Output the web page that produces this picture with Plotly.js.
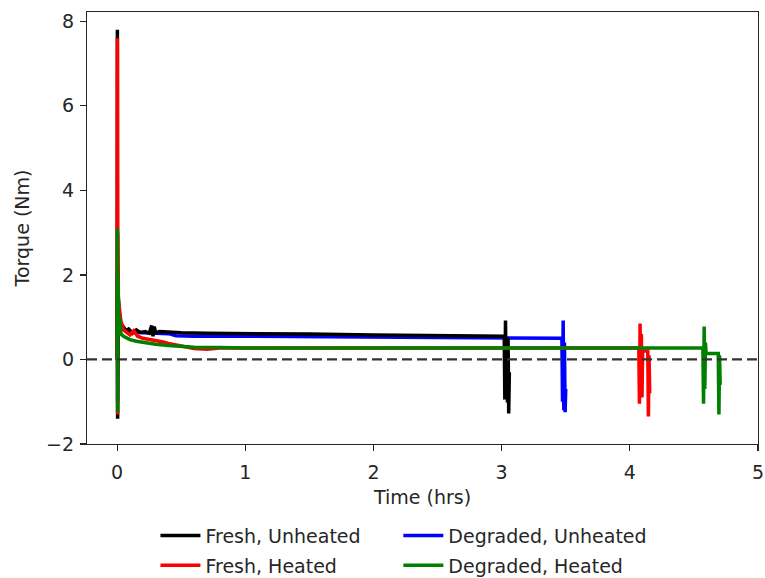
<!DOCTYPE html>
<html>
<head>
<meta charset="utf-8">
<script src="https://cdn.plot.ly/plotly-3.0.1.min.js"></script>
<style>html,body{margin:0;padding:0;background:#fff;}#chart{width:765px;height:578px;}</style>
</head>
<body>
<div id="chart"></div>
<script>
// Fresh, Unheated (black)
const freshUnheatedT = [0, 0.002, 0.004, 0.006, 0.009, 0.013, 0.02, 0.03, 0.05, 0.07, 0.09, 0.12, 0.15, 0.18, 0.22, 0.25, 0.27, 0.28, 0.29, 0.3, 0.33, 0.4, 0.5, 0.7, 1.0, 1.5, 2.0, 2.5, 2.9, 3.02, 3.025, 3.03, 3.035, 3.04, 3.045, 3.05, 3.055, 3.06];
const freshUnheatedY = [0, 7.8, -1.4, 2.2, 1.5, 1.1, 0.95, 0.85, 0.75, 0.68, 0.72, 0.62, 0.7, 0.64, 0.66, 0.62, 0.8, 0.55, 0.78, 0.63, 0.66, 0.64, 0.63, 0.62, 0.62, 0.6, 0.58, 0.57, 0.56, 0.55, -0.95, 0.92, -0.6, 0.3, -1.02, 0.5, -1.28, -0.3];

// Fresh, Heated (red)
const freshHeatedT = [0, 0.002, 0.004, 0.006, 0.01, 0.02, 0.03, 0.05, 0.08, 0.1, 0.13, 0.16, 0.2, 0.25, 0.3, 0.35, 0.4, 0.45, 0.5, 0.6, 0.7, 0.8, 1.0, 2.0, 3.0, 4.0, 4.07, 4.075, 4.08, 4.085, 4.09, 4.095, 4.1, 4.14, 4.145, 4.15, 4.155];
const freshHeatedY = [0, 7.6, -1.3, 3.0, 1.4, 1.1, 0.9, 0.7, 0.62, 0.58, 0.68, 0.55, 0.5, 0.48, 0.45, 0.42, 0.38, 0.36, 0.32, 0.26, 0.24, 0.27, 0.27, 0.27, 0.27, 0.27, 0.27, -1.05, 0.85, -0.5, 0.6, -0.9, 0.2, 0.2, -1.35, 0.1, -0.8];

// Degraded, Unheated (blue)
const degradedUnheatedT = [0, 0.002, 0.004, 0.01, 0.03, 0.06, 0.1, 0.2, 0.3, 0.4, 0.46, 0.6, 1.0, 1.5, 2.0, 2.5, 3.0, 3.3, 3.47, 3.475, 3.48, 3.485, 3.49, 3.495, 3.5];
const degradedUnheatedY = [0, 2.0, -1.0, 1.0, 0.8, 0.7, 0.65, 0.63, 0.62, 0.61, 0.56, 0.55, 0.55, 0.54, 0.53, 0.52, 0.51, 0.5, 0.5, -1.0, 0.92, -1.2, 0.4, -1.25, -0.7];

// Degraded, Heated (green)
const degradedHeatedT = [0, 0.002, 0.004, 0.006, 0.01, 0.015, 0.02, 0.03, 0.05, 0.08, 0.1, 0.15, 0.2, 0.3, 0.4, 0.5, 0.6, 0.8, 1.0, 2.0, 3.0, 4.0, 4.57, 4.575, 4.58, 4.585, 4.59, 4.595, 4.62, 4.69, 4.695, 4.7, 4.705];
const degradedHeatedY = [0, 3.1, -1.25, 2.0, 1.2, 0.7, 1.0, 0.6, 0.55, 0.5, 0.47, 0.43, 0.4, 0.36, 0.33, 0.3, 0.29, 0.28, 0.27, 0.27, 0.27, 0.27, 0.27, -1.05, 0.78, -0.7, 0.4, 0.14, 0.14, 0.14, -1.3, 0.1, -0.6];

const seriesNames = ["Fresh, Unheated", "Fresh, Heated", "Degraded, Unheated", "Degraded, Heated"];
const xTickVals = [0, 1, 2, 3, 4, 5];
const yTickVals = [-2, 0, 2, 4, 6, 8];

const FONT = "DejaVu Sans, sans-serif";
const TXT = "#262626";
const FS = 19;
const LW = 3.5;

function tr(x, y, name, color, legend) {
  return {x: x, y: y, name: name, type: "scatter", mode: "lines",
          line: {color: color, width: LW}, legend: legend};
}

const data = [
  tr(degradedUnheatedT, degradedUnheatedY, seriesNames[2], "#0000ff", "legend2"),
  tr(freshUnheatedT, freshUnheatedY, seriesNames[0], "#000000", "legend"),
  tr(freshHeatedT, freshHeatedY, seriesNames[1], "#ff0000", "legend3"),
  tr(degradedHeatedT, degradedHeatedY, seriesNames[3], "#008000", "legend4")
];

const legBase = {xanchor: "left", yanchor: "middle", bgcolor: "rgba(0,0,0,0)",
                 font: {family: FONT, size: FS, color: TXT}, itemwidth: 40};

const layout = {
  width: 765, height: 578,
  margin: {l: 87, r: 7, t: 12, b: 134, autoexpand: false},
  paper_bgcolor: "#fff", plot_bgcolor: "#fff",
  font: {family: FONT, size: FS, color: TXT},
  showlegend: true,
  legend: Object.assign({}, legBase, {x: 0.102, y: -0.212}),
  legend2: Object.assign({}, legBase, {x: 0.464, y: -0.212}),
  legend3: Object.assign({}, legBase, {x: 0.102, y: -0.281}),
  legend4: Object.assign({}, legBase, {x: 0.464, y: -0.281}),
  xaxis: {
    range: [-0.235, 5], tickvals: xTickVals, ticktext: xTickVals.map(String),
    showgrid: false, zeroline: false, showline: true, mirror: true,
    linecolor: "#262626", linewidth: 1.2, ticks: "outside", ticklen: 6, tickwidth: 1.2,
    tickcolor: "#262626", tickfont: {family: FONT, size: FS, color: TXT}, ticklabelstandoff: 5,
    title: {text: "Time (hrs)", font: {family: FONT, size: FS, color: TXT}, standoff: 8}
  },
  yaxis: {
    range: [-2, 8.22], tickvals: yTickVals, ticktext: yTickVals.map(v => v < 0 ? "\u2212" + Math.abs(v) : String(v)),
    showgrid: false, zeroline: false, showline: true, mirror: true,
    linecolor: "#262626", linewidth: 1.2, ticks: "outside", ticklen: 6, tickwidth: 1.2,
    tickcolor: "#262626", tickfont: {family: FONT, size: FS, color: TXT}, ticklabelstandoff: 2,
    title: {text: "Torque (Nm)", font: {family: FONT, size: FS, color: TXT}, standoff: 11}
  },
  shapes: [{type: "line", xref: "paper", x0: 0, x1: 1, yref: "y", y0: 0, y1: 0,
            line: {color: "#333333", width: 2.2, dash: "10px,5px"}, layer: "above"}]
};

Plotly.newPlot("chart", data, layout, {displayModeBar: false, staticPlot: true});
</script>
</body>
</html>
